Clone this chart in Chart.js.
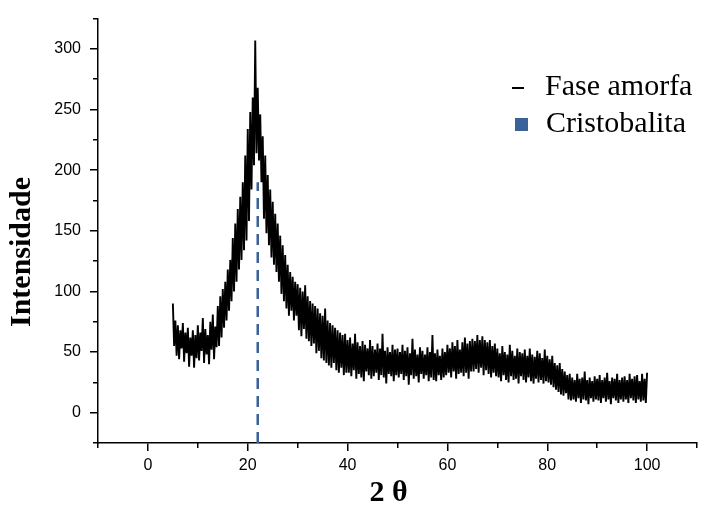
<!DOCTYPE html>
<html>
<head>
<meta charset="utf-8">
<script src="https://cdn.jsdelivr.net/npm/chart.js"></script>
<style>
    html, body { margin: 0; padding: 0; background: #fff; }
    #wrap { width: 702px; height: 532px; position: relative; }
</style>
</head>
<body>
<div id="wrap"><canvas id="difratograma"></canvas></div>
<script>
// difratograma: 2θ de 5 a 100 com passo 0.25
const anguloInicial = 5;
const passoAngulo = 0.25;
const intensidade = [
    90, 55, 76, 47, 72, 44, 68, 53, 74, 42, 66, 49, 70, 38, 62, 47, 68, 37, 64, 45,
    72, 43, 66, 51, 78, 41, 69, 48, 64, 40, 75, 52, 81, 44, 71, 54, 88, 55, 96, 62,
    102, 70, 108, 76, 118, 84, 126, 92, 144, 100, 156, 108, 168, 118, 178, 126, 190, 134, 212, 142,
    234, 158, 248, 184, 260, 204, 307, 214, 268, 208, 246, 190, 228, 160, 212, 148, 196, 138, 184, 128,
    174, 122, 164, 116, 156, 108, 146, 98, 138, 92, 130, 86, 122, 80, 116, 84, 112, 76, 108, 80,
    106, 68, 103, 63, 100, 69, 105, 61, 96, 59, 92, 55, 90, 57, 88, 49, 86, 51, 82, 45,
    80, 43, 86, 41, 76, 39, 74, 37, 72, 41, 70, 35, 68, 33, 66, 37, 64, 31, 65, 33,
    60, 33, 62, 30, 57, 35, 65, 28, 58, 32, 55, 29, 59, 26, 56, 34, 53, 31, 60, 28,
    55, 30, 52, 33, 57, 27, 53, 31, 65, 29, 51, 24, 54, 32, 50, 30, 56, 26, 52, 31,
    53, 29, 50, 32, 56, 27, 51, 30, 54, 23, 49, 31, 61, 28, 52, 30, 48, 25, 54, 32,
    51, 28, 48, 31, 54, 26, 50, 29, 64, 27, 49, 26, 52, 31, 47, 27, 53, 29, 50, 31,
    56, 33, 53, 29, 58, 34, 55, 28, 60, 32, 52, 33, 58, 30, 62, 33, 57, 28, 59, 34,
    61, 34, 59, 36, 64, 33, 60, 37, 63, 31, 60, 35, 58, 32, 60, 29, 55, 33, 57, 30,
    53, 29, 49, 26, 55, 31, 50, 27, 48, 25, 56, 30, 51, 27, 47, 28, 53, 24, 50, 30,
    49, 27, 52, 25, 47, 29, 53, 26, 48, 24, 46, 28, 51, 25, 49, 27, 45, 24, 52, 26,
    47, 25, 44, 23, 47, 21, 41, 19, 39, 17, 41, 15, 36, 14, 34, 16, 31, 11, 32, 10,
    29, 11, 27, 9, 32, 12, 28, 8, 29, 11, 34, 10, 27, 7, 29, 12, 26, 9, 30, 11,
    28, 10, 31, 8, 27, 12, 29, 9, 33, 11, 26, 7, 29, 12, 28, 10, 32, 8, 27, 11,
    29, 9, 30, 11, 27, 8, 32, 12, 28, 10, 30, 8, 31, 11, 26, 9, 32, 10, 28, 8,
    33
];

// pico da cristobalita (linha tracejada)
const picoCristobalita = 22;
const alturaCristobalita = 190;

const nomesSeries = ['Fase amorfa', 'Cristobalita'];
const tituloX = '2 \u03b8';
const tituloY = 'Intensidade';

const limitesX = [-10, 110];
const limitesY = [-25, 325];
const ticksX = [0, 20, 40, 60, 80, 100];
const ticksXMenores = [-10, 10, 30, 50, 70, 90, 110];
const ticksY = [0, 50, 100, 150, 200, 250, 300];
const ticksYMenores = [-25, 25, 75, 125, 175, 225, 275, 325];

const corAmorfa = '#000000';
const corCristobalita = '#3a6299';

const pontosAmorfa = intensidade.map((v, i) => ({ x: anguloInicial + i * passoAngulo, y: v }));
const pontosCristobalita = [
    { x: picoCristobalita, y: limitesY[0] },
    { x: picoCristobalita, y: alturaCristobalita }
];

const fonteSerif = '"Liberation Serif", "Times New Roman", serif';

// titulos dos eixos e legenda desenhados por cima do grafico
const extrasPlugin = {
    id: 'extras',
    afterDraw(chart) {
        const ctx = chart.ctx;
        const area = chart.chartArea;
        ctx.save();
        ctx.fillStyle = '#000';
        ctx.font = 'bold 30px ' + fonteSerif;
        ctx.textAlign = 'center';
        ctx.textBaseline = 'middle';
        ctx.fillText(tituloX, (area.left + area.right) / 2 - 9, 493);

        ctx.save();
        ctx.translate(22, 252);
        ctx.rotate(-Math.PI / 2);
        ctx.fillText(tituloY, 0, 0);
        ctx.restore();

        // legenda
        ctx.font = '30px ' + fonteSerif;
        ctx.textAlign = 'left';
        ctx.textBaseline = 'alphabetic';
        ctx.fillStyle = corAmorfa;
        ctx.fillRect(512, 87, 12, 2);
        ctx.fillText(nomesSeries[0], 545, 95);
        ctx.fillStyle = corCristobalita;
        ctx.fillRect(515, 118, 13, 13);
        ctx.fillStyle = '#000';
        ctx.fillText(nomesSeries[1], 546, 132);
        ctx.restore();
    }
};

const fonteTicks = { family: '"Liberation Sans", Arial, sans-serif', size: 16 };

new Chart(document.getElementById('difratograma'), {
    type: 'line',
    data: {
        datasets: [
            {
                label: nomesSeries[0],
                data: pontosAmorfa,
                borderColor: corAmorfa,
                borderWidth: 1.9,
                pointRadius: 0,
                tension: 0,
                fill: false
            },
            {
                label: nomesSeries[1],
                data: pontosCristobalita,
                borderColor: corCristobalita,
                borderWidth: 2.5,
                borderDash: [11, 7],
                pointRadius: 0,
                fill: false
            }
        ]
    },
    options: {
        responsive: true,
        maintainAspectRatio: false,
        animation: false,
        layout: { padding: { left: 0, right: 5, top: 15, bottom: 0 } },
        plugins: {
            legend: { display: false },
            tooltip: { enabled: false }
        },
        scales: {
            x: {
                type: 'linear',
                position: 'bottom',
                weight: 1,
                min: limitesX[0],
                max: limitesX[1],
                afterBuildTicks: s => { s.ticks = ticksX.map(v => ({ value: v })); },
                afterFit: s => { s.height = 89; },
                border: { color: '#000', width: 1.5 },
                grid: { drawOnChartArea: false, color: '#000', lineWidth: 1.5, tickLength: 8 },
                ticks: { color: '#000', font: fonteTicks, padding: 5, autoSkip: false, maxRotation: 0 }
            },
            xMenor: {
                type: 'linear',
                position: 'bottom',
                weight: 0,
                min: limitesX[0],
                max: limitesX[1],
                afterBuildTicks: s => { s.ticks = ticksXMenores.map(v => ({ value: v })); },
                afterFit: s => { s.height = 0; },
                border: { display: false },
                grid: { drawOnChartArea: false, color: '#000', lineWidth: 1.5, tickLength: 5 },
                ticks: { display: false, autoSkip: false }
            },
            y: {
                type: 'linear',
                position: 'left',
                weight: 1,
                min: limitesY[0],
                max: limitesY[1],
                afterBuildTicks: s => { s.ticks = ticksY.map(v => ({ value: v })); },
                afterFit: s => { s.width = 98; },
                border: { color: '#000', width: 1.5 },
                grid: { drawOnChartArea: false, color: '#000', lineWidth: 1.5, tickLength: 8 },
                ticks: { color: '#000', font: fonteTicks, padding: 9, autoSkip: false }
            },
            yMenor: {
                type: 'linear',
                position: 'left',
                weight: 0,
                min: limitesY[0],
                max: limitesY[1],
                afterBuildTicks: s => { s.ticks = ticksYMenores.map(v => ({ value: v })); },
                afterFit: s => { s.width = 0; },
                border: { display: false },
                grid: { drawOnChartArea: false, color: '#000', lineWidth: 1.5, tickLength: 5 },
                ticks: { display: false, autoSkip: false }
            }
        }
    },
    plugins: [extrasPlugin]
});
</script>
</body>
</html>
